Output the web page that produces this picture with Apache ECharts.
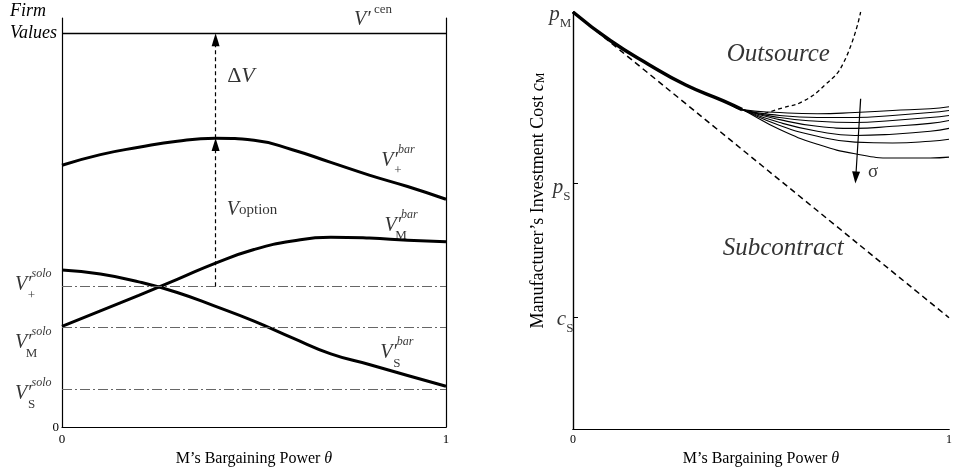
<!DOCTYPE html>
<html>
<head>
<meta charset="utf-8">
<script src="https://cdn.jsdelivr.net/npm/echarts@6/dist/echarts.min.js"></script>
<style>
  html, body { margin: 0; padding: 0; background: #fff; }
  #chart { width: 955px; height: 472px; }
</style>
</head>
<body>
<div id="chart"></div>
<script>
// left panel: firm values against M's bargaining power
const theta = [0, 0.1, 0.2, 0.3, 0.4, 0.5, 0.6, 0.7, 0.8, 0.9, 1];
const vPlusBar = [64.0, 66.6, 68.4, 69.9, 70.6, 70.1, 67.8, 64.7, 61.6, 58.8, 55.7];
const vMBar = [24.6, 28.4, 32.2, 36.1, 40.1, 43.4, 45.5, 46.4, 46.2, 45.7, 45.3];
const vSBar = [38.4, 37.4, 35.5, 32.9, 29.5, 25.9, 21.8, 17.9, 15.3, 12.6, 10.0];
const vCen = 96.2;
const vPlusSolo = 34.4;
const vMSolo = 24.4;
const vSSolo = 9.2;
const optionTheta = 0.4;

// right panel: investment cost regions
const pM = 100;
const pS = 58.9;
const cS = 26.7;
const thetaShared = [0, 0.1, 0.2, 0.3, 0.4, 0.45];
const costShared = [100, 93.1, 87.5, 82.5, 78.7, 76.6];
const thetaFan = [0.55, 0.65, 0.75, 0.85, 0.95, 1];
const fanCurves = [
  [75.9, 75.6, 75.9, 76.4, 76.8, 77.3],
  [75.2, 74.7, 74.7, 75.2, 75.9, 76.4],
  [74.7, 73.8, 73.5, 74.0, 74.7, 75.2],
  [74.2, 72.6, 72.1, 72.6, 73.3, 74.0],
  [73.5, 71.4, 70.4, 70.7, 71.4, 72.1],
  [72.8, 70.2, 68.8, 68.6, 69.0, 69.5],
  [71.8, 68.3, 66.0, 65.0, 65.0, 65.2]
];
const thetaOut = [0.51, 0.56, 0.61, 0.67, 0.72, 0.765];
const costOut = [75.7, 77.1, 78.5, 82.5, 87.9, 100];
const sigmaArrow = [[0.765, 79.2], [0.752, 60.3]];

const serif = 'Liberation Serif';
const zip = (xs, ys) => xs.map((x, i) => [x, ys[i]]);

const rich = {
  v: { fontFamily: serif, fontStyle: 'italic', fontSize: 20, lineHeight: 34, color: '#000' },
  sub: { fontFamily: serif, fontSize: 13, lineHeight: 14, verticalAlign: 'bottom', width: 0, color: '#000' },
  subw: { fontFamily: serif, fontSize: 13, lineHeight: 14, verticalAlign: 'bottom', color: '#000' },
  sup: { fontFamily: serif, fontStyle: 'italic', fontSize: 12, lineHeight: 28, verticalAlign: 'top', color: '#000' },
  up: { fontFamily: serif, fontSize: 13, lineHeight: 30, verticalAlign: 'top', color: '#000' },
  opt: { fontFamily: serif, fontSize: 15, lineHeight: 30, verticalAlign: 'middle', color: '#000' },
  dl: { fontFamily: serif, fontSize: 22, color: '#000' },
  dv: { fontFamily: serif, fontStyle: 'italic', fontSize: 22, color: '#000' },
  p: { fontFamily: serif, fontStyle: 'italic', fontSize: 21, lineHeight: 30, color: '#000' },
  region: { fontFamily: serif, fontStyle: 'italic', fontSize: 25, color: '#000' },
  sig: { fontFamily: serif, fontSize: 19, color: '#000' },
  i: { fontFamily: serif, fontStyle: 'italic', fontSize: 16, color: '#000' },
  a: { fontFamily: serif, fontStyle: 'italic', fontSize: 18, width: 50, align: 'left', color: '#000' }
};

// text anchors, in data coordinates
const leftNotes = [
  [0.81, 99.6, '{v|V′}{up| cen}'],
  [0.466, 85.8, '{dl|Δ}{dv|V}'],
  [0.495, 53.1, '{v|V}{opt|option}'],
  [0.875, 65.2, '{v|V′}{sub|+}{sup|bar}'],
  [0.883, 49.3, '{v|V′}{sub|M}{sup|bar}'],
  [0.872, 18.2, '{v|V′}{sub|S}{sup|bar}'],
  [-0.075, 34.8, '{v|V′}{sub|+}{sup|solo}'],
  [-0.075, 20.6, '{v|V′}{sub|M}{sup|solo}'],
  [-0.075, 8.1, '{v|V′}{sub|S}{sup|solo}']
];
const rightNotes = [
  [-0.034, 99.3, '{p|p}{subw|M}'],
  [-0.030, 57.9, '{p|p}{subw|S}'],
  [-0.021, 26.2, '{p|c}{subw|S}'],
  [0.546, 89.8, '{region|Outsource}'],
  [0.559, 43.3, '{region|Subcontract}'],
  [0.798, 61.7, '{sig|σ}']
];

const black = '#000';
const axisLine = { show: true, lineStyle: { color: black, width: 1.2 } };
const tickLabel = { fontFamily: serif, fontSize: 13, color: black };
const xTitle = {
  name: 'M’s Bargaining Power {i|θ}',
  nameLocation: 'middle',
  nameGap: 18,
  nameTextStyle: { fontFamily: serif, fontSize: 16, color: black, rich }
};

const noteSeries = (notes, xi, yi, extra) => Object.assign({
  type: 'scatter',
  xAxisIndex: xi,
  yAxisIndex: yi,
  symbolSize: 1,
  itemStyle: { color: 'rgba(0,0,0,0)' },
  clip: false,
  silent: true,
  data: notes.map((n) => ({ value: [n[0], n[1]], label: { formatter: n[2] } })),
  label: { show: true, position: 'inside', rich }
}, extra);

const curve = (data, width, xi, yi, type) => ({
  type: 'line',
  xAxisIndex: xi,
  yAxisIndex: yi,
  data,
  smooth: 0.5,
  symbol: 'none',
  silent: true,
  lineStyle: { color: black, width, type: type || 'solid' }
});

const dashDot = { color: '#666', width: 1, type: [10, 3, 2, 3] };
const arrowEnd = { symbol: 'triangle', symbolSize: [8, 13] };

const chart = echarts.init(document.getElementById('chart'));
chart.setOption({
  animation: false,
  backgroundColor: '#fff',
  grid: [
    { left: 62, right: 509, top: 15, bottom: 35 },
    { left: 573, right: 3, top: 12, bottom: 37 }
  ],
  xAxis: [
    Object.assign({
      gridIndex: 0, type: 'value', min: 0, max: 1, interval: 1,
      axisLine, axisTick: { show: false }, splitLine: { show: false },
      axisLabel: Object.assign({ margin: 6 }, tickLabel)
    }, xTitle),
    Object.assign({
      gridIndex: 1, type: 'value', min: 0, max: 1, interval: 1,
      axisLine, axisTick: { show: false }, splitLine: { show: false },
      axisLabel: Object.assign({ margin: 5 }, tickLabel, { fontSize: 12 })
    }, xTitle),
    {
      gridIndex: 1, type: 'value', position: 'top', min: 0, max: 1,
      axisLine, axisTick: { show: false }, axisLabel: { show: false }, splitLine: { show: false }
    }
  ],
  yAxis: [
    {
      gridIndex: 0, type: 'value', min: 0, max: 100,
      axisLine, axisTick: { show: false }, splitLine: { show: false },
      axisLabel: Object.assign({ customValues: [0], margin: 3, formatter: '0' }, tickLabel),
      name: '{a|Firm}\n{a|Values}',
      nameLocation: 'end',
      nameGap: -26,
      nameTextStyle: { align: 'right', verticalAlign: 'bottom', lineHeight: 22, padding: [0, 2, 0, 0], rich }
    },
    {
      gridIndex: 0, type: 'value', position: 'right', min: 0, max: 100,
      axisLine, axisTick: { show: false }, axisLabel: { show: false }, splitLine: { show: false }
    },
    {
      gridIndex: 1, type: 'value', min: 0, max: 100,
      axisLine, splitLine: { show: false },
      axisTick: { show: true, customValues: [pS, cS], inside: true, length: 5, lineStyle: { color: black } },
      axisLabel: { show: false },
      name: 'Manufacturer’s Investment Cost {c|c}{m|M}',
      nameLocation: 'middle',
      nameGap: 26,
      nameTextStyle: {
        fontFamily: serif, fontSize: 18, color: black, padding: [0, 0, 0, 40],
        rich: {
          c: { fontFamily: serif, fontStyle: 'italic', fontSize: 18, color: black },
          m: { fontFamily: serif, fontSize: 12, verticalAlign: 'bottom', lineHeight: 16, color: black }
        }
      }
    },
    {
      gridIndex: 1, type: 'value', position: 'right', min: 0, max: 100,
      axisLine, axisTick: { show: false }, axisLabel: { show: false }, splitLine: { show: false }
    }
  ],
  series: [
    curve(zip(theta, vPlusBar), 3, 0, 0),
    curve(zip(theta, vMBar), 3, 0, 0),
    curve(zip(theta, vSBar), 3, 0, 0),
    noteSeries(leftNotes, 0, 0, {
      markLine: {
        silent: true,
        symbol: ['none', 'none'],
        label: { show: false },
        lineStyle: { color: black, width: 1.2, type: [4, 3] },
        data: [
          { yAxis: vCen, lineStyle: { color: black, width: 1.3, type: 'solid' } },
          { yAxis: vPlusSolo, lineStyle: dashDot },
          { yAxis: vMSolo, lineStyle: dashDot },
          { yAxis: vSSolo, lineStyle: dashDot },
          [{ coord: [optionTheta, vPlusSolo] }, Object.assign({ coord: [optionTheta, vPlusBar[4] - 1.5] }, arrowEnd)],
          [{ coord: [optionTheta, vPlusBar[4]] }, Object.assign({ coord: [optionTheta, vCen - 1.5] }, arrowEnd)]
        ]
      }
    }),
    curve(zip([0, 1], [pM, cS]), 1.5, 1, 2, [6, 4]),
    curve(zip(thetaOut, costOut), 1.3, 1, 2, [4, 3]),
    ...fanCurves.map((c) => curve(zip(thetaShared, costShared).concat(zip(thetaFan, c)), 1.1, 1, 2)),
    curve(zip(thetaShared, costShared), 3.5, 1, 2),
    noteSeries(rightNotes, 1, 2, {
      markLine: {
        silent: true,
        symbol: ['none', 'none'],
        label: { show: false },
        data: [
          [
            { coord: sigmaArrow[0] },
            Object.assign({ coord: sigmaArrow[1] }, arrowEnd, { symbolSize: [8, 12] })
          ]
        ],
        lineStyle: { color: black, width: 1.2, type: 'solid', curveness: 0.14 }
      }
    })
  ]
});
</script>
</body>
</html>
